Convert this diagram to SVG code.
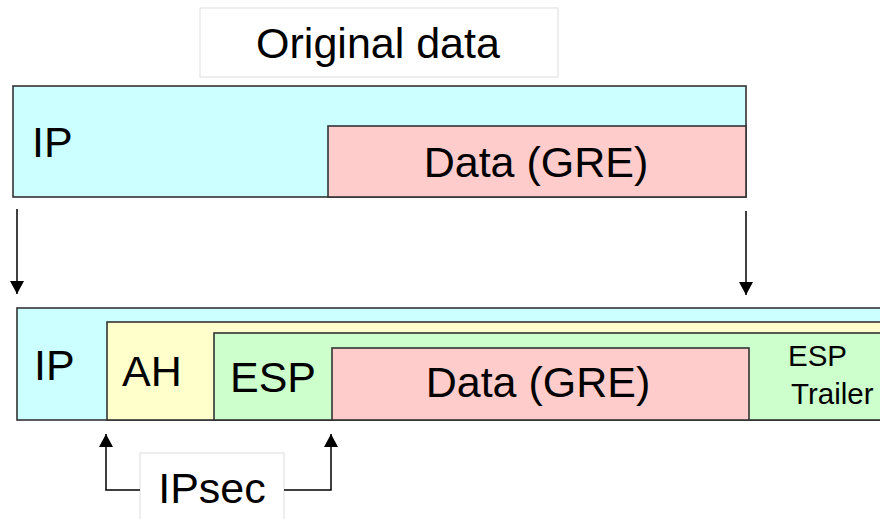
<svg xmlns="http://www.w3.org/2000/svg" width="880" height="519" viewBox="0 0 880 519">
  <style>
    .lbl { font-family: "Liberation Sans", Arial, sans-serif; font-size: 43px; fill: #000; }
    .small { font-size: 29.5px; }
    .box { stroke: #333; stroke-width: 1.6; }
    .caption { fill: #fff; stroke: #ddd; stroke-width: 1; }
    .ip { fill: #ccffff; }
    .data { fill: #ffcccc; }
    .ah { fill: #ffffcc; }
    .esp { fill: #ccffcc; }
    .wire { fill: none; stroke: #000; stroke-width: 1.5; }
  </style>
  <defs>
    <marker id="head" markerUnits="userSpaceOnUse" markerWidth="14" markerHeight="14" viewBox="0 0 14 14" refX="13" refY="7" orient="auto">
      <path d="M0,0 L13,7 L0,14 Z" fill="#000"/>
    </marker>
  </defs>

  <rect width="880" height="519" fill="#fff"/>

  <!-- caption above the original packet -->
  <g id="caption-original">
    <rect class="caption" x="200" y="8" width="358" height="69"/>
    <text class="lbl" x="378" y="58" text-anchor="middle">Original data</text>
  </g>

  <!-- original packet: IP header wrapping GRE payload -->
  <g id="orig-ip">
    <rect class="box ip" x="13" y="86" width="733" height="111"/>
    <text class="lbl" x="32" y="157">IP</text>
  </g>
  <g id="orig-data">
    <rect class="box data" x="328" y="126" width="418" height="71"/>
    <text class="lbl" x="536" y="177" text-anchor="middle">Data (GRE)</text>
  </g>

  <!-- encapsulated packet: IP / AH / ESP / GRE payload / ESP trailer -->
  <g id="new-ip">
    <rect class="box ip" x="17" y="308" width="880" height="112"/>
    <text class="lbl" x="34" y="380">IP</text>
  </g>
  <g id="new-ah">
    <rect class="box ah" x="107" y="322" width="800" height="98"/>
    <text class="lbl" x="122" y="386">AH</text>
  </g>
  <g id="new-esp">
    <rect class="box esp" x="214" y="333" width="700" height="87"/>
    <text class="lbl" x="230" y="392">ESP</text>
  </g>
  <g id="new-data">
    <rect class="box data" x="332" y="348" width="417" height="72"/>
    <text class="lbl" x="538" y="397" text-anchor="middle">Data (GRE)</text>
  </g>
  <g id="esp-trailer">
    <text class="lbl small" x="788" y="366">ESP</text>
    <text class="lbl small" x="791" y="404">Trailer</text>
  </g>

  <!-- caption below the IPsec headers -->
  <g id="caption-ipsec">
    <rect class="caption" x="140" y="453" width="144" height="80"/>
    <text class="lbl" x="212" y="503" text-anchor="middle">IPsec</text>
  </g>

  <g id="connectors">
    <path class="wire" d="M17,209 L17,294" marker-end="url(#head)"/>
    <path class="wire" d="M746,211 L746,295" marker-end="url(#head)"/>
    <path class="wire" d="M140,490 L106,490 L106,434" marker-end="url(#head)"/>
    <path class="wire" d="M284,490 L331,490 L331,434" marker-end="url(#head)"/>
  </g>
</svg>
